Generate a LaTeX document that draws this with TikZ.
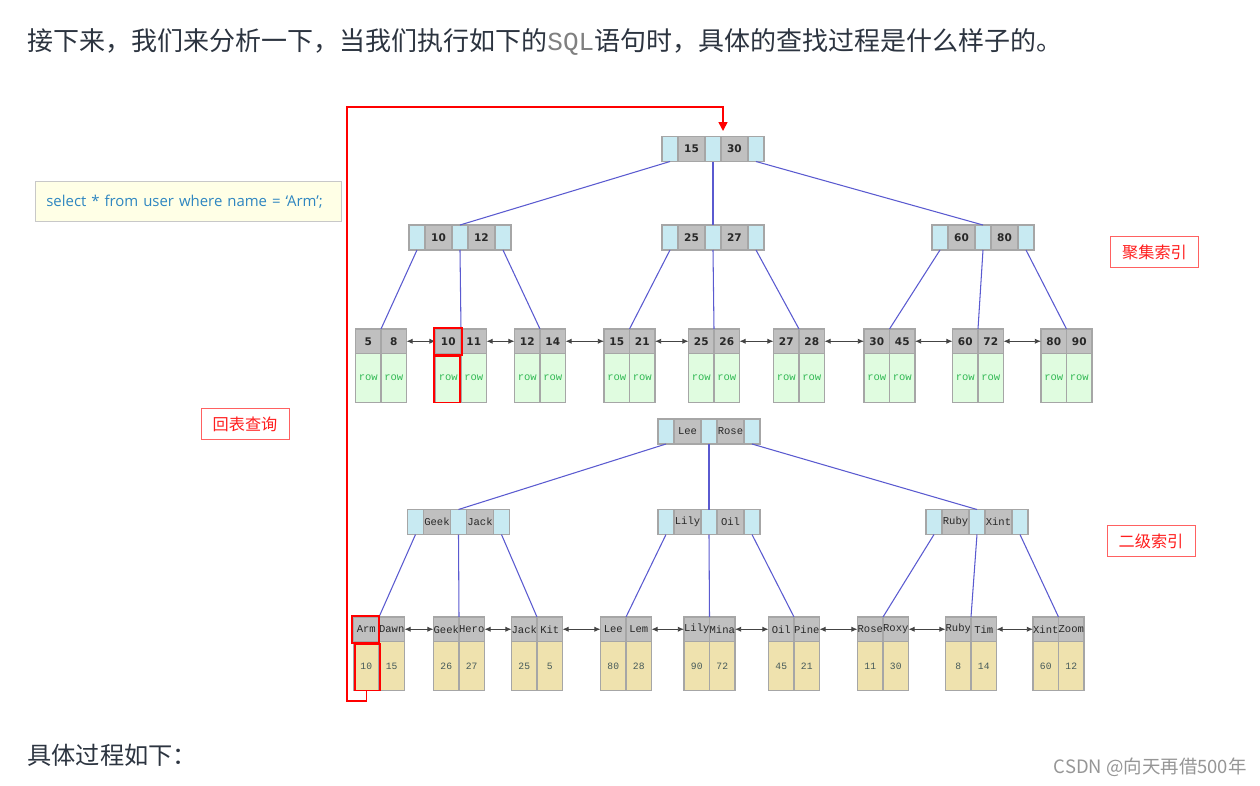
\documentclass[tikz,border=0pt]{standalone}
\usepackage{fontspec}
\usepackage{tikz}
\usetikzlibrary{positioning,arrows.meta}
\setmainfont{Noto Sans CJK SC}
\newfontfamily\cjk{Noto Sans CJK SC}
\newfontfamily\sqlfont{Open Sans}
\newfontfamily\keyfont{DejaVu Sans}
\newfontfamily\codefont{Liberation Mono}
\definecolor{headtext}{RGB}{44,52,64}
\definecolor{ptrblue}{RGB}{200,234,242}
\definecolor{keygrey}{RGB}{192,192,192}
\definecolor{cellline}{RGB}{166,166,166}
\definecolor{keytext}{RGB}{40,40,40}
\definecolor{rowfill}{RGB}{224,252,224}
\definecolor{rowtext}{RGB}{51,185,85}
\definecolor{valfill}{RGB}{239,226,174}
\definecolor{valtext}{RGB}{70,90,90}
\definecolor{edgeblue}{RGB}{90,90,208}
\definecolor{linkgrey}{RGB}{68,68,68}
\definecolor{tagred}{RGB}{255,30,30}
\definecolor{sqlfill}{RGB}{255,255,230}
\definecolor{sqlline}{RGB}{200,200,200}
\definecolor{sqlblue}{RGB}{46,134,193}
\definecolor{markgrey}{RGB}{150,150,150}

\begin{document}
\begin{tikzpicture}[x=0.02cm, y=-0.02cm]
  \tikzstyle{cell} = [draw=cellline, line width=0.6pt, inner sep=0pt, outer sep=0pt, minimum height=0.5cm]
  \tikzstyle{ptr} = [cell, fill=ptrblue, minimum width=0.32cm]
  \tikzstyle{ckey} = [cell, fill=keygrey, minimum width=0.54cm, text=keytext, font=\keyfont\bfseries\fontsize{6}{7}\selectfont]
  \tikzstyle{skey} = [cell, fill=keygrey, minimum width=0.54cm, text=keytext, font=\codefont\fontsize{6}{7}\selectfont]
  \tikzstyle{lckey} = [ckey, minimum width=0.51cm, minimum height=0.49cm]
  \tikzstyle{lskey} = [skey, minimum width=0.51cm, minimum height=0.49cm]
  \tikzstyle{row} = [cell, fill=rowfill, minimum width=0.51cm, minimum height=0.98cm, text=rowtext, font=\codefont\fontsize{6}{7}\selectfont]
  \tikzstyle{val} = [cell, fill=valfill, minimum width=0.51cm, minimum height=0.98cm, text=valtext, font=\codefont\fontsize{5.5}{7}\selectfont]
  \tikzstyle{edge} = [draw=edgeblue, line width=0.6pt]
  \tikzstyle{link} = [<->, draw=linkgrey, line width=0.5pt, >={Latex[length=3.5pt,width=3pt]}]
  \tikzstyle{hl} = [draw=red, line width=1.1pt]
  \tikzstyle{tag} = [draw=tagred!70, line width=0.5pt, fill=white, text=tagred, minimum width=1.76cm, minimum height=0.62cm, inner sep=0pt, font=\cjk\fontsize{9.2}{11}\selectfont]

  \path[fill=white, use as bounding box] (0,0) rectangle (1260,785);

  % texts round the picture
  \node[anchor=base west, text=headtext, inner sep=0pt, font=\cjk\fontsize{14.8}{17}\selectfont] (head) at (27,50)
    {接下来，我们来分析一下，当我们执行如下的{\codefont\color{gray}SQL}语句时，具体的查找过程是什么样子的。};
  \node[anchor=base west, text=headtext, inner sep=0pt, font=\cjk\fontsize{13.8}{16}\selectfont] (foot) at (27,764) {具体过程如下：};
  \node[anchor=base east, text=markgrey, inner sep=0pt, font=\cjk\fontsize{10.5}{12}\selectfont] (mark) at (1247,773) {CSDN @向天再借500年};

  \node[draw=sqlline, fill=sqlfill, anchor=north west, text width=5.68cm, align=left, inner xsep=0.22cm, inner ysep=0pt, minimum height=0.8cm, text=sqlblue, font=\sqlfont\fontsize{8.5}{10}\selectfont] (sql) at (35,181)
    {select * from user where name = ‘Arm’;};

  \node[tag] (back) at (245,424) {回表查询};
  \node[tag] (clus) at (1154.5,252) {聚集索引};
  \node[tag] (sec) at (1151,541) {二级索引};

  % inner nodes: pointer | key | pointer | key | pointer
  \foreach \n/\x/\y/\a/\b/\k in {croot/662/136.5/15/30/ckey, c1/409/225/10/12/ckey, c2/662/225/25/27/ckey, c3/932/225/60/80/ckey,
                                 sroot/658/419/Lee/Rose/skey, s1/407.5/509.5/Geek/Jack/skey, s2/658/509.5/Lily/Oil/skey, s3/926/509.5/Ruby/Xint/skey} {
    \node[ptr, anchor=north west] (\n-0) at (\x,\y) {};
    \node[\k, right=0pt of \n-0] (\n-a) {\a};
    \node[ptr, right=0pt of \n-a] (\n-1) {};
    \node[\k, right=0pt of \n-1] (\n-b) {\b};
    \node[ptr, right=0pt of \n-b] (\n-2) {};
  }

  % leaves of the clustered index
  \foreach \n/\x/\a/\b in {cl1/355.5/5/8, cl2/435.5/10/11, cl3/514.5/12/14, cl4/604/15/21, cl5/688.5/25/26,
                           cl6/773.5/27/28, cl7/864/30/45, cl8/952.5/60/72, cl9/1041/80/90} {
    \node[lckey, anchor=north west] (\n-a) at (\x,329) {\a};
    \node[lckey, right=0pt of \n-a] (\n-b) {\b};
    \node[row, below=0pt of \n-a] (\n-u) {row};
    \node[row, below=0pt of \n-b] (\n-v) {row};
  }

  % leaves of the secondary index
  \foreach \n/\x/\a/\b/\u/\v in {sl1/353.5/Arm/Dawn/10/15, sl2/433.5/Geek/Hero/26/27, sl3/511.5/Jack/Kit/25/5,
                                 sl4/600.5/Lee/Lem/80/28, sl5/684/Lily/Mina/90/72, sl6/768.5/Oil/Pine/45/21,
                                 sl7/857.5/Rose/Roxy/11/30, sl8/945.5/Ruby/Tim/8/14, sl9/1033/Xint/Zoom/60/12} {
    \node[lskey, anchor=north west] (\n-a) at (\x,617) {\a};
    \node[lskey, right=0pt of \n-a] (\n-b) {\b};
    \node[val, below=0pt of \n-a] (\n-u) {\u};
    \node[val, below=0pt of \n-b] (\n-v) {\v};
  }

  % tree edges
  \draw[edge] (croot-0.south) -- (c1-1.north);
  \draw[edge] (croot-1.south) -- (c2-1.north);
  \draw[edge] (croot-2.south) -- (c3-1.north);
  \draw[edge] (sroot-0.south) -- (s1-1.north);
  \draw[edge] (sroot-1.south) -- (s2-1.north);
  \draw[edge] (sroot-2.south) -- (s3-1.north);
  \foreach \p/\i/\j/\k in {c1/cl1/cl2/cl3, c2/cl4/cl5/cl6, c3/cl7/cl8/cl9, s1/sl1/sl2/sl3, s2/sl4/sl5/sl6, s3/sl7/sl8/sl9} {
    \draw[edge] (\p-0.south) -- (\i-a.north east);
    \draw[edge] (\p-1.south) -- (\j-a.north east);
    \draw[edge] (\p-2.south) -- (\k-a.north east);
  }

  % leaf links
  \foreach \i [count=\j from 2] in {1,...,8} {
    \draw[link] (cl\i-b.east) -- (cl\j-a.west);
    \draw[link] (sl\i-b.east) -- (sl\j-a.west);
  }

  % found entries
  \draw[hl] ([shift={(-0.6pt,0.6pt)}]cl2-a.north west) rectangle ([shift={(0.6pt,-0.6pt)}]cl2-a.south east);
  \draw[hl] ([shift={(-0.6pt,-1.2pt)}]cl2-u.north west) rectangle ([shift={(-0.8pt,0pt)}]cl2-u.south east);
  \draw[hl] ([shift={(-0.6pt,0.6pt)}]sl1-a.north west) rectangle ([shift={(0pt,-0.6pt)}]sl1-a.south east);
  \draw[hl] ([shift={(0.6pt,-1.2pt)}]sl1-u.north west) rectangle ([shift={(0.6pt,0pt)}]sl1-u.south east);

  % back to the table
  \coordinate (turnA) at (347,701);
  \coordinate (turnB) at (347,107);
  \coordinate (entry) at (723,107);
  \coordinate (hit) at (723,131);
  \draw[red, line width=0.85pt, -{Triangle[length=5pt,width=5pt]}] (sl1-u.south) |- (turnA) -- (turnB) -- (entry) -- (hit);
\end{tikzpicture}
\end{document}
